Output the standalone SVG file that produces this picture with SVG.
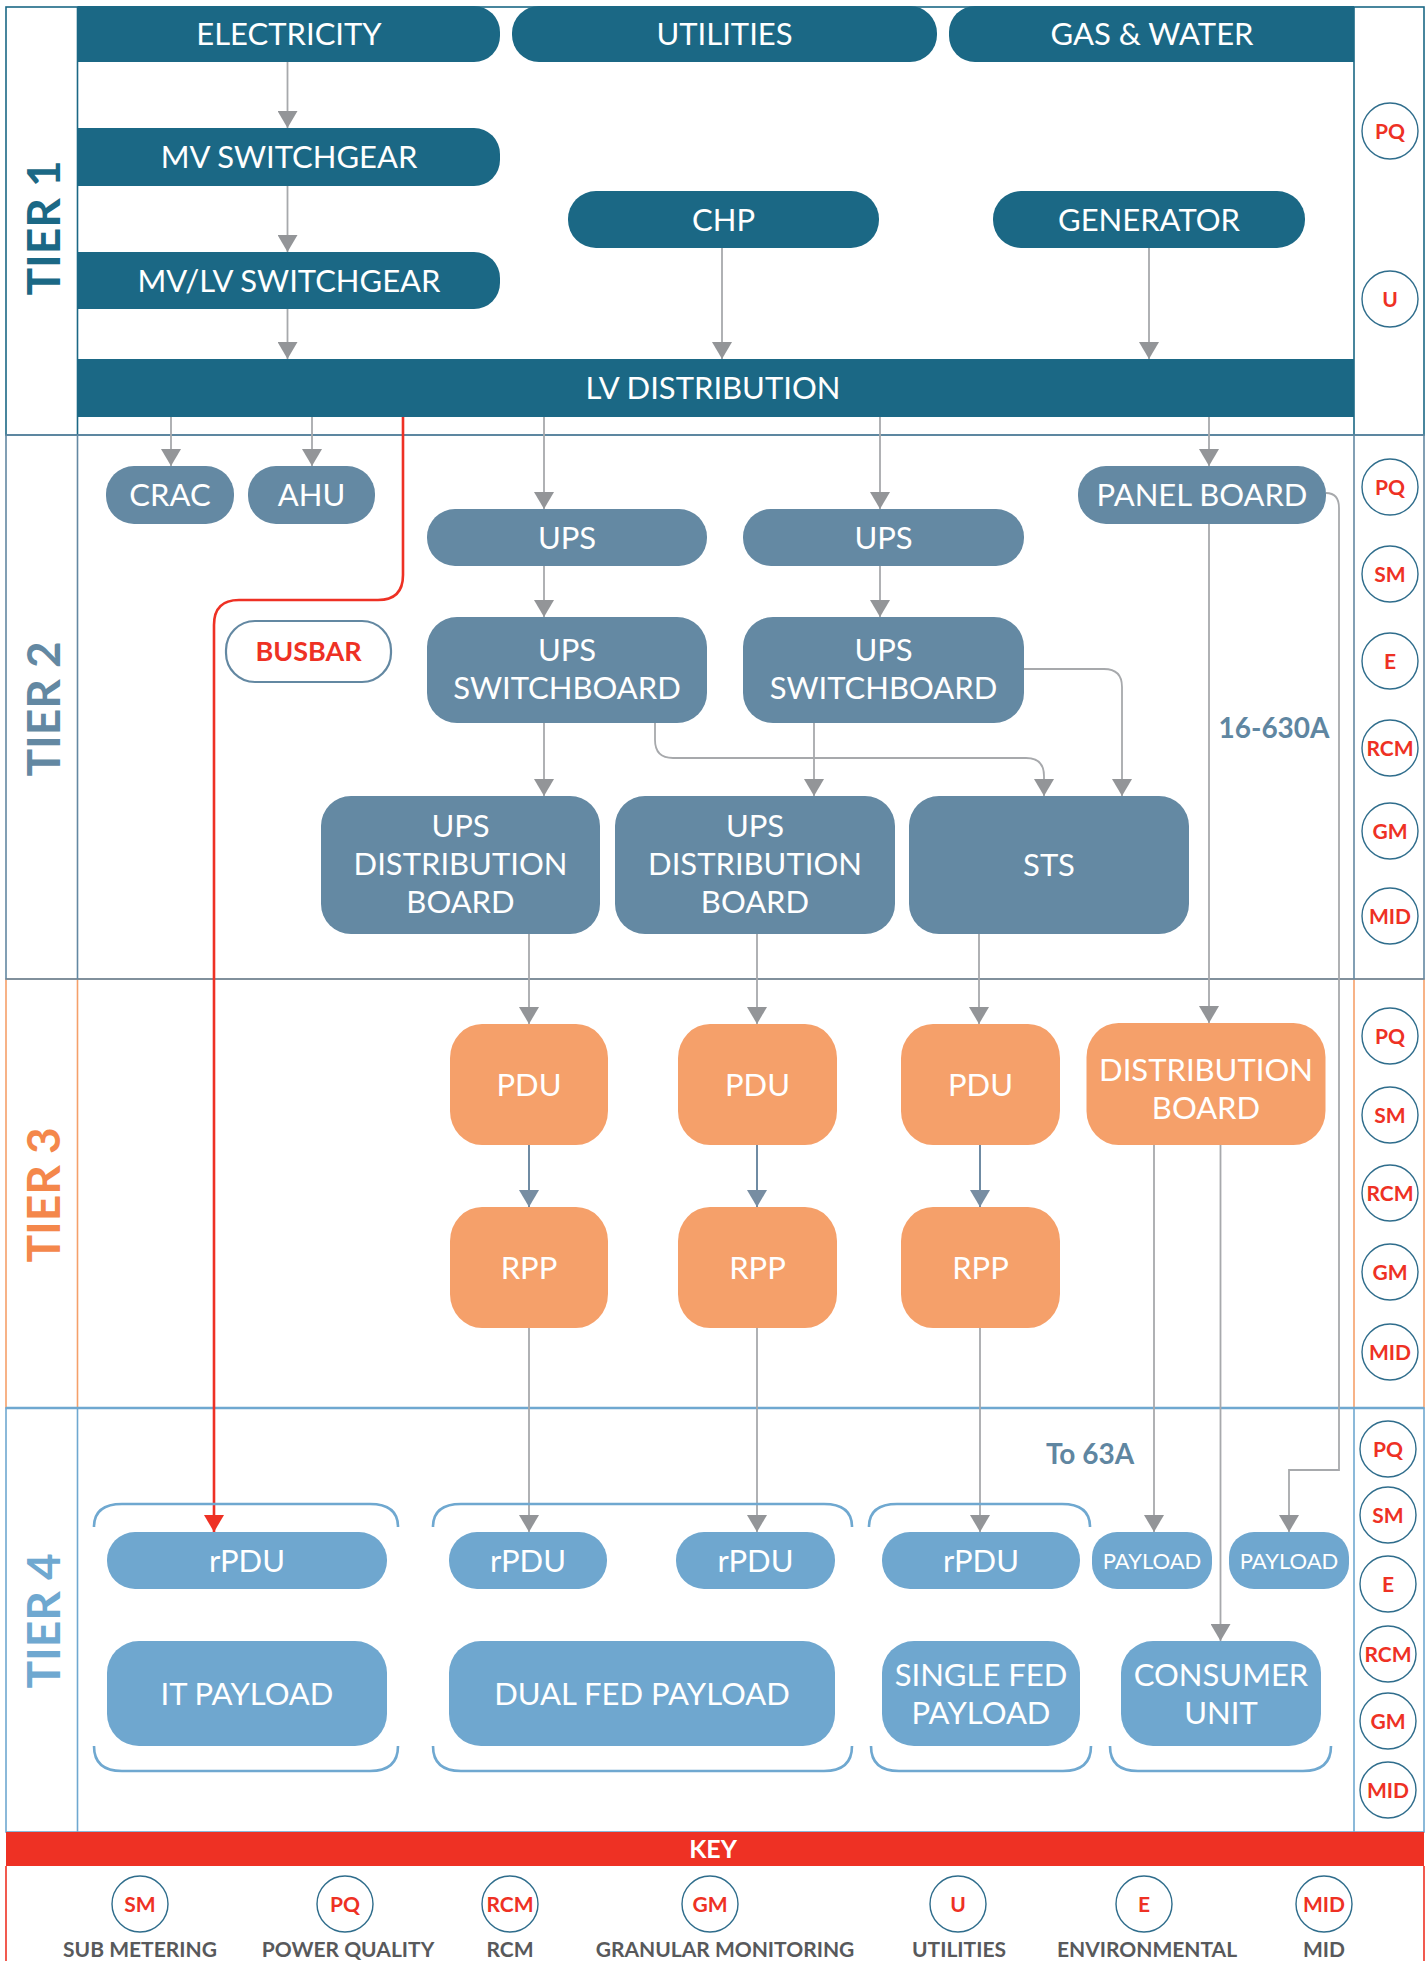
<svg xmlns="http://www.w3.org/2000/svg" width="1427" height="1961" viewBox="0 0 1427 1961">
<style>
text{font-family:Lato,'Open Sans','Liberation Sans',sans-serif;text-anchor:middle}
.t{fill:#fff;font-size:31px}
.ts{fill:#fff;font-size:22px}
.c1{fill:#1b6885}
.c2{fill:#6489a3}
.c3{fill:#f5a06a}
.c4{fill:#6fa7cf}
.ln{fill:none;stroke:#a7a9ac;stroke-width:1.8}
.lns{fill:none;stroke:#6f8ba3;stroke-width:2}
.red{fill:none;stroke:#ee3124;stroke-width:2.6}
.br{fill:none;stroke:#6fa8d0;stroke-width:2.6}
.bd{fill:#fff;stroke:#2f6d8c;stroke-width:1.4}
.bt{fill:#ee3124;font-size:21px;font-weight:bold}
.kl{fill:#58595b;font-size:21px;font-weight:bold}
.tier{font-size:46px;font-weight:bold}
.amp{fill:#5f86a1;font-size:28px;font-weight:bold}
</style>
<defs>
<marker id="ag" markerUnits="userSpaceOnUse" markerWidth="17" markerHeight="20" refX="17" refY="10" orient="auto" viewBox="0 0 17 20"><path d="M0,0 L17,10 L0,20 Z" fill="#939598"/></marker>
<marker id="as" markerUnits="userSpaceOnUse" markerWidth="17" markerHeight="20" refX="17" refY="10" orient="auto" viewBox="0 0 17 20"><path d="M0,0 L17,10 L0,20 Z" fill="#778da2"/></marker>
<marker id="ar" markerUnits="userSpaceOnUse" markerWidth="17" markerHeight="20" refX="17" refY="10" orient="auto" viewBox="0 0 17 20"><path d="M0,0 L17,10 L0,20 Z" fill="#ee3124"/></marker>
</defs>
<rect width="1427" height="1961" fill="#fff"/>

<g id="frames" fill="none" stroke-width="1.6">
<g stroke="#1b6885"><rect x="6" y="7" width="1418" height="428"/><line x1="77.5" y1="7" x2="77.5" y2="435"/><line x1="1354" y1="7" x2="1354" y2="435"/></g>
<g stroke="#f5a06a"><rect x="6" y="979" width="1418" height="429"/><line x1="77.5" y1="979" x2="77.5" y2="1408"/><line x1="1354" y1="979" x2="1354" y2="1408"/></g>
<g stroke="#6388a2"><rect x="6" y="435" width="1418" height="544"/><line x1="77.5" y1="435" x2="77.5" y2="979"/><line x1="1354" y1="435" x2="1354" y2="979"/></g>
<g stroke="#6fa8d0"><rect x="6" y="1408" width="1418" height="424"/><line x1="77.5" y1="1408" x2="77.5" y2="1832"/><line x1="1354" y1="1408" x2="1354" y2="1832"/><line x1="6" y1="1408" x2="1424" y2="1408" stroke-width="2.4"/></g>
<g stroke="#ee3124"><line x1="6" y1="1866" x2="6" y2="1961"/><line x1="1424" y1="1866" x2="1424" y2="1961"/></g>
</g>

<g id="tier-labels" class="tier">
<text transform="translate(60,228) rotate(-90)" fill="#1b6885">TIER 1</text>
<text transform="translate(60,709) rotate(-90)" fill="#6388a2">TIER 2</text>
<text transform="translate(60,1195) rotate(-90)" fill="#f4874b">TIER 3</text>
<text transform="translate(60,1621) rotate(-90)" fill="#6fa8d0">TIER 4</text>
</g>

<g id="connectors">
<path class="ln" marker-end="url(#ag)" d="M287.5,62 V128"/>
<path class="ln" marker-end="url(#ag)" d="M287.5,186 V252"/>
<path class="ln" marker-end="url(#ag)" d="M287.5,309 V359"/>
<path class="ln" marker-end="url(#ag)" d="M722,248 V359"/>
<path class="ln" marker-end="url(#ag)" d="M1149,248 V359"/>
<path class="ln" marker-end="url(#ag)" d="M171,417 V466"/>
<path class="ln" marker-end="url(#ag)" d="M312,417 V466"/>
<path class="ln" marker-end="url(#ag)" d="M544,417 V509"/>
<path class="ln" marker-end="url(#ag)" d="M880,417 V509"/>
<path class="ln" marker-end="url(#ag)" d="M1209,417 V466"/>
<path class="ln" marker-end="url(#ag)" d="M544,566 V617"/>
<path class="ln" marker-end="url(#ag)" d="M880,566 V617"/>
<path class="ln" marker-end="url(#ag)" d="M544,723 V796"/>
<path class="ln" marker-end="url(#ag)" d="M814,723 V796"/>
<path class="ln" marker-end="url(#ag)" d="M655,723 V740 Q655,758 673,758 H1026 Q1044,758 1044,776 V796"/>
<path class="ln" marker-end="url(#ag)" d="M1024,669 H1104 Q1122,669 1122,687 V796"/>
<path class="ln" marker-end="url(#ag)" d="M1209,524 V1023"/>
<path class="ln" marker-end="url(#ag)" d="M1326,493 Q1339,493 1339,508 V1470 H1289 V1532"/>
<path class="ln" marker-end="url(#ag)" d="M529,934 V1024"/>
<path class="ln" marker-end="url(#ag)" d="M757,934 V1024"/>
<path class="ln" marker-end="url(#ag)" d="M979,934 V1024"/>
<path class="lns" marker-end="url(#as)" d="M529,1145 V1207"/>
<path class="lns" marker-end="url(#as)" d="M757,1145 V1207"/>
<path class="lns" marker-end="url(#as)" d="M980,1145 V1207"/>
<path class="ln" marker-end="url(#ag)" d="M529,1328 V1532"/>
<path class="ln" marker-end="url(#ag)" d="M757,1328 V1532"/>
<path class="ln" marker-end="url(#ag)" d="M980,1328 V1532"/>
<path class="ln" marker-end="url(#ag)" d="M1154,1145 V1532"/>
<path class="ln" marker-end="url(#ag)" d="M1220.5,1145 V1641"/>
<path class="red" marker-end="url(#ar)" d="M403,417 V575 Q403,600 378,600 H239 Q214,600 214,625 V1532"/>
</g>

<g id="brackets" class="br">
<path d="M94,1527 Q94,1504 122,1504 H370 Q398,1504 398,1527"/>
<path d="M94,1746 Q94,1771 122,1771 H370 Q398,1771 398,1746"/>
<path d="M433,1527 Q433,1504 461,1504 H824 Q852,1504 852,1527"/>
<path d="M433,1746 Q433,1771 461,1771 H824 Q852,1771 852,1746"/>
<path d="M869,1527 Q869,1504 897,1504 H1062 Q1090,1504 1090,1527"/>
<path d="M871,1746 Q871,1771 899,1771 H1063 Q1091,1771 1091,1746"/>
<path d="M1110,1746 Q1110,1771 1138,1771 H1303 Q1331,1771 1331,1746"/>
</g>

<g id="n-electricity"><path class="c1" d="M77.5,6 H474 A26,26 0 0 1 500,32 V36 A26,26 0 0 1 474,62 H77.5 Z"/><text class="t" x="289" y="45">ELECTRICITY</text></g>
<g id="n-utilities"><rect class="c1" x="512" y="6" width="425" height="56" rx="27"/><text class="t" x="724.5" y="45">UTILITIES</text></g>
<g id="n-gaswater"><path class="c1" d="M1354,6 H975 A26,26 0 0 0 949,32 V36 A26,26 0 0 0 975,62 H1354 Z"/><text class="t" x="1152" y="45">GAS &amp; WATER</text></g>
<g id="n-mvswitchgear"><path class="c1" d="M77.5,128 H474 A26,26 0 0 1 500,154 V160 A26,26 0 0 1 474,186 H77.5 Z"/><text class="t" x="289" y="168">MV SWITCHGEAR</text></g>
<g id="n-mvlvswitchgear"><path class="c1" d="M77.5,252 H474 A26,26 0 0 1 500,278 V283 A26,26 0 0 1 474,309 H77.5 Z"/><text class="t" x="289" y="291.5">MV/LV SWITCHGEAR</text></g>
<g id="n-chp"><rect class="c1" x="568" y="191" width="311" height="57" rx="28"/><text class="t" x="723.5" y="230.5">CHP</text></g>
<g id="n-generator"><rect class="c1" x="993" y="191" width="312" height="57" rx="28"/><text class="t" x="1149" y="230.5">GENERATOR</text></g>
<g id="n-lvdist"><rect class="c1" x="77.5" y="359" width="1276.5" height="58"/><text class="t" x="713" y="399">LV DISTRIBUTION</text></g>

<g id="n-crac"><rect class="c2" x="106" y="466" width="128" height="58" rx="28"/><text class="t" x="170" y="506">CRAC</text></g>
<g id="n-ahu"><rect class="c2" x="248" y="466" width="127" height="58" rx="28"/><text class="t" x="311.5" y="506">AHU</text></g>
<g id="n-busbar"><rect x="226" y="621" width="165" height="61" rx="29" fill="#fff" stroke="#6388a2" stroke-width="2.2"/><text x="308.5" y="661" fill="#ee3124" font-size="27" font-weight="bold">BUSBAR</text></g>
<g id="n-ups1"><rect class="c2" x="427" y="509" width="280" height="57" rx="28"/><text class="t" x="567" y="548.5">UPS</text></g>
<g id="n-ups2"><rect class="c2" x="743" y="509" width="281" height="57" rx="28"/><text class="t" x="883.5" y="548.5">UPS</text></g>
<g id="n-panelboard"><rect class="c2" x="1078" y="466" width="248" height="58" rx="28"/><text class="t" x="1202" y="506">PANEL BOARD</text></g>
<g id="n-upsswb1"><rect class="c2" x="427" y="617" width="280" height="106" rx="30"/><text class="t" x="567" y="660.5">UPS</text><text class="t" x="567" y="698.5">SWITCHBOARD</text></g>
<g id="n-upsswb2"><rect class="c2" x="743" y="617" width="281" height="106" rx="30"/><text class="t" x="883.5" y="660.5">UPS</text><text class="t" x="883.5" y="698.5">SWITCHBOARD</text></g>
<g id="n-udb1"><rect class="c2" x="321" y="796" width="279" height="138" rx="30"/><text class="t" x="460.5" y="837">UPS</text><text class="t" x="460.5" y="875">DISTRIBUTION</text><text class="t" x="460.5" y="913">BOARD</text></g>
<g id="n-udb2"><rect class="c2" x="615" y="796" width="280" height="138" rx="30"/><text class="t" x="755" y="837">UPS</text><text class="t" x="755" y="875">DISTRIBUTION</text><text class="t" x="755" y="913">BOARD</text></g>
<g id="n-sts"><rect class="c2" x="909" y="796" width="280" height="138" rx="30"/><text class="t" x="1049" y="876">STS</text></g>
<text id="lbl-16-630a" class="amp" x="1274" y="738">16-630A</text>

<g id="n-pdu1"><rect class="c3" x="450" y="1024" width="158" height="121" rx="32" ry="34"/><text class="t" x="529" y="1095.5">PDU</text></g>
<g id="n-pdu2"><rect class="c3" x="678" y="1024" width="159" height="121" rx="32" ry="34"/><text class="t" x="757.5" y="1095.5">PDU</text></g>
<g id="n-pdu3"><rect class="c3" x="901" y="1024" width="159" height="121" rx="32" ry="34"/><text class="t" x="980.5" y="1095.5">PDU</text></g>
<g id="n-distboard"><rect class="c3" x="1086.5" y="1023" width="239" height="122" rx="32" ry="34"/><text class="t" x="1206" y="1081">DISTRIBUTION</text><text class="t" x="1206" y="1119">BOARD</text></g>
<g id="n-rpp1"><rect class="c3" x="450" y="1207" width="158" height="121" rx="32" ry="34"/><text class="t" x="529" y="1278.5">RPP</text></g>
<g id="n-rpp2"><rect class="c3" x="678" y="1207" width="159" height="121" rx="32" ry="34"/><text class="t" x="757.5" y="1278.5">RPP</text></g>
<g id="n-rpp3"><rect class="c3" x="901" y="1207" width="159" height="121" rx="32" ry="34"/><text class="t" x="980.5" y="1278.5">RPP</text></g>

<text id="lbl-to63a" class="amp" x="1090" y="1464">To 63A</text>
<g id="n-rpdu1"><rect class="c4" x="107" y="1532" width="280" height="57" rx="28"/><text class="t" x="247" y="1571.5">rPDU</text></g>
<g id="n-rpdu2"><rect class="c4" x="449" y="1532" width="158" height="57" rx="28"/><text class="t" x="528" y="1571.5">rPDU</text></g>
<g id="n-rpdu3"><rect class="c4" x="676" y="1532" width="159" height="57" rx="28"/><text class="t" x="755.5" y="1571.5">rPDU</text></g>
<g id="n-rpdu4"><rect class="c4" x="882" y="1532" width="198" height="57" rx="28"/><text class="t" x="981" y="1571.5">rPDU</text></g>
<g id="n-payload1"><rect class="c4" x="1092" y="1532" width="120" height="57" rx="25"/><text class="ts" x="1152" y="1568.5">PAYLOAD</text></g>
<g id="n-payload2"><rect class="c4" x="1229" y="1532" width="120" height="57" rx="25"/><text class="ts" x="1289" y="1568.5">PAYLOAD</text></g>
<g id="n-itpayload"><rect class="c4" x="107" y="1641" width="280" height="105" rx="32"/><text class="t" x="247" y="1704.5">IT PAYLOAD</text></g>
<g id="n-dualfed"><rect class="c4" x="449" y="1641" width="386" height="105" rx="32"/><text class="t" x="642" y="1704.5">DUAL FED PAYLOAD</text></g>
<g id="n-singlefed"><rect class="c4" x="882" y="1641" width="198" height="105" rx="32"/><text class="t" x="981" y="1686">SINGLE FED</text><text class="t" x="981" y="1724">PAYLOAD</text></g>
<g id="n-consumer"><rect class="c4" x="1121" y="1641" width="200" height="105" rx="32"/><text class="t" x="1221" y="1686">CONSUMER</text><text class="t" x="1221" y="1724">UNIT</text></g>

<g id="badges">
<g><circle class="bd" cx="1390" cy="131" r="28"/><text class="bt" x="1390" y="138.5">PQ</text></g>
<g><circle class="bd" cx="1390" cy="299" r="28"/><text class="bt" x="1390" y="306.5">U</text></g>
<g><circle class="bd" cx="1390" cy="487" r="28"/><text class="bt" x="1390" y="494.5">PQ</text></g>
<g><circle class="bd" cx="1390" cy="574" r="28"/><text class="bt" x="1390" y="581.5">SM</text></g>
<g><circle class="bd" cx="1390" cy="661" r="28"/><text class="bt" x="1390" y="668.5">E</text></g>
<g><circle class="bd" cx="1390" cy="748" r="28"/><text class="bt" x="1390" y="755.5">RCM</text></g>
<g><circle class="bd" cx="1390" cy="831" r="28"/><text class="bt" x="1390" y="838.5">GM</text></g>
<g><circle class="bd" cx="1390" cy="916" r="28"/><text class="bt" x="1390" y="923.5">MID</text></g>
<g><circle class="bd" cx="1390" cy="1036" r="28"/><text class="bt" x="1390" y="1043.5">PQ</text></g>
<g><circle class="bd" cx="1390" cy="1115" r="28"/><text class="bt" x="1390" y="1122.5">SM</text></g>
<g><circle class="bd" cx="1390" cy="1193" r="28"/><text class="bt" x="1390" y="1200.5">RCM</text></g>
<g><circle class="bd" cx="1390" cy="1272" r="28"/><text class="bt" x="1390" y="1279.5">GM</text></g>
<g><circle class="bd" cx="1390" cy="1352" r="28"/><text class="bt" x="1390" y="1359.5">MID</text></g>
<g><circle class="bd" cx="1388" cy="1449" r="28"/><text class="bt" x="1388" y="1456.5">PQ</text></g>
<g><circle class="bd" cx="1388" cy="1515" r="28"/><text class="bt" x="1388" y="1522.5">SM</text></g>
<g><circle class="bd" cx="1388" cy="1584" r="28"/><text class="bt" x="1388" y="1591.5">E</text></g>
<g><circle class="bd" cx="1388" cy="1654" r="28"/><text class="bt" x="1388" y="1661.5">RCM</text></g>
<g><circle class="bd" cx="1388" cy="1721" r="28"/><text class="bt" x="1388" y="1728.5">GM</text></g>
<g><circle class="bd" cx="1388" cy="1790" r="28"/><text class="bt" x="1388" y="1797.5">MID</text></g>
</g>

<g id="key">
<rect x="6" y="1832" width="1418" height="34" fill="#ee3124"/>
<text x="713" y="1858" fill="#fff" font-size="25" font-weight="bold">KEY</text>
<g><circle class="bd" cx="140" cy="1904" r="28"/><text class="bt" x="140" y="1911.5">SM</text><text class="kl" x="140" y="1957">SUB METERING</text></g>
<g><circle class="bd" cx="345" cy="1904" r="28"/><text class="bt" x="345" y="1911.5">PQ</text><text class="kl" x="348" y="1957">POWER QUALITY</text></g>
<g><circle class="bd" cx="510" cy="1904" r="28"/><text class="bt" x="510" y="1911.5">RCM</text><text class="kl" x="510" y="1957">RCM</text></g>
<g><circle class="bd" cx="710" cy="1904" r="28"/><text class="bt" x="710" y="1911.5">GM</text><text class="kl" x="725" y="1957">GRANULAR MONITORING</text></g>
<g><circle class="bd" cx="958" cy="1904" r="28"/><text class="bt" x="958" y="1911.5">U</text><text class="kl" x="959" y="1957">UTILITIES</text></g>
<g><circle class="bd" cx="1144" cy="1904" r="28"/><text class="bt" x="1144" y="1911.5">E</text><text class="kl" x="1147" y="1957">ENVIRONMENTAL</text></g>
<g><circle class="bd" cx="1324" cy="1904" r="28"/><text class="bt" x="1324" y="1911.5">MID</text><text class="kl" x="1324" y="1957">MID</text></g>
</g>
</svg>
